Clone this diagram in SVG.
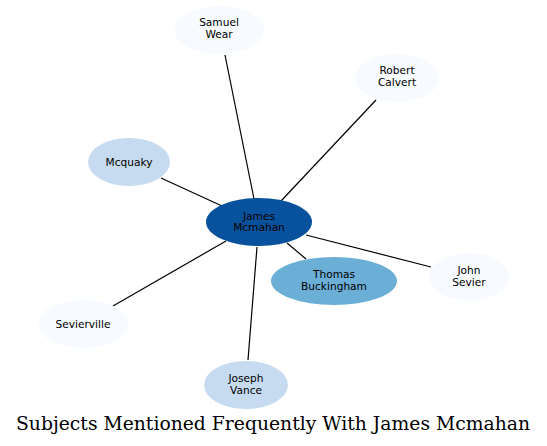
<svg xmlns="http://www.w3.org/2000/svg" width="547" height="446" viewBox="0 0 547 446">
<style>
.n text{font-family:"DejaVu Sans",sans-serif;font-size:10.6px;text-anchor:middle;fill:#000}
.e line{stroke:#000;stroke-width:1.2}
.title{font-family:"DejaVu Serif",serif;font-size:18.5px;text-anchor:middle;fill:#000}
</style>
<rect width="547" height="446" fill="#fff"/>
<g class="e" id="connectors">
<line x1="225" y1="55" x2="254" y2="199"/>
<line x1="376" y1="100" x2="281" y2="201"/>
<line x1="161" y1="178" x2="222" y2="206"/>
<line x1="306" y1="235" x2="431" y2="267"/>
<line x1="287" y1="243" x2="306" y2="259"/>
<line x1="113" y1="306" x2="226" y2="241"/>
<line x1="257" y1="247" x2="248" y2="360"/>
</g>
<g class="n" id="samuel-wear"><ellipse cx="219" cy="30" rx="45" ry="24" fill="#f7fbff"/><text x="219" y="26">Samuel</text><text x="219" y="38">Wear</text></g>
<g class="n" id="robert-calvert"><ellipse cx="397" cy="78" rx="42" ry="24" fill="#f7fbff"/><text x="397" y="74">Robert</text><text x="397" y="86">Calvert</text></g>
<g class="n" id="mcquaky"><ellipse cx="129" cy="162" rx="41" ry="24" fill="#c6dbef"/><text x="129" y="166">Mcquaky</text></g>
<g class="n" id="james-mcmahan"><ellipse cx="259" cy="222" rx="53" ry="24" fill="#08519c"/><text x="259" y="219.5">James</text><text x="259" y="231">Mcmahan</text></g>
<g class="n" id="thomas-buckingham"><ellipse cx="334" cy="281" rx="63" ry="24" fill="#6baed6"/><text x="334" y="277.5">Thomas</text><text x="334" y="289.5">Buckingham</text></g>
<g class="n" id="john-sevier"><ellipse cx="469" cy="277" rx="40" ry="24" fill="#f7fbff"/><text x="469" y="273.5">John</text><text x="469" y="285.5">Sevier</text></g>
<g class="n" id="sevierville"><ellipse cx="83" cy="324" rx="45" ry="24" fill="#f7fbff"/><text x="83" y="327.5">Sevierville</text></g>
<g class="n" id="joseph-vance"><ellipse cx="246" cy="385" rx="42" ry="24" fill="#c6dbef"/><text x="246" y="381.5">Joseph</text><text x="246" y="393.5">Vance</text></g>
<text class="title" x="273" y="429.5" textLength="514" lengthAdjust="spacingAndGlyphs">Subjects Mentioned Frequently With James Mcmahan</text>
</svg>
